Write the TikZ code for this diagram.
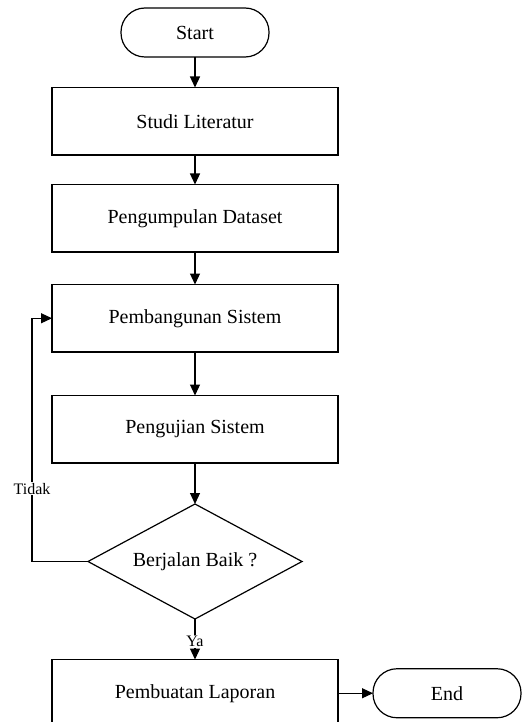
\documentclass[tikz,border=0pt]{standalone}
\usepackage{fontspec}
\setmainfont{Liberation Serif}
\usetikzlibrary{arrows.meta,positioning,shapes.geometric}

\begin{document}
\begin{tikzpicture}[x=1pt,y=-1pt,line width=1.2pt,
  every node/.style={font=\fontsize{20}{23}\selectfont,outer sep=0pt},
  process/.style={draw,rectangle,minimum width=286pt,minimum height=67.5pt},
  terminal/.style={draw,rectangle,rounded corners=24pt,minimum width=148pt,minimum height=49pt},
  decision/.style={draw,diamond,aspect=1.86,minimum width=214pt,minimum height=115pt,inner sep=0pt},
  flow/.style={-{Triangle[width=10pt,length=11pt]}},
  answer/.style={fill=white,inner sep=1pt,font=\fontsize{16}{18}\selectfont}]

\useasboundingbox (0,0) rectangle (522,722);

\node [terminal] (start) at (195,32.5) {Start};
\node [process, below =30.5pt of start] (studi) {Studi Literatur};
\node [process, below =29.5pt of studi] (dataset) {Pengumpulan Dataset};
\node [process, below =32.5pt of dataset] (build) {Pembangunan Sistem};
\node [process, below =43.5pt of build] (test) {Pengujian Sistem};
\node [decision, below =41pt of test] (check) {Berjalan Baik ?};
\node [process, below =40.5pt of check] (report) {Pembuatan Laporan};
\node [terminal, right =35pt of report] (end) {End};

\draw [flow] (start) -- (studi);
\draw [flow] (studi) -- (dataset);
\draw [flow] (dataset) -- (build);
\draw [flow] (build) -- (test);
\draw [flow] (test) -- (check);
\draw [flow] (check) -- node [answer, pos=0.55] {Ya} (report);
\draw [flow] (report) -- (end);

% loop back when the test fails
\draw [flow] (check.west) -- ++(-56,0) |- node [answer, pos=0.15] {Tidak} (build.west);

\end{tikzpicture}
\end{document}
